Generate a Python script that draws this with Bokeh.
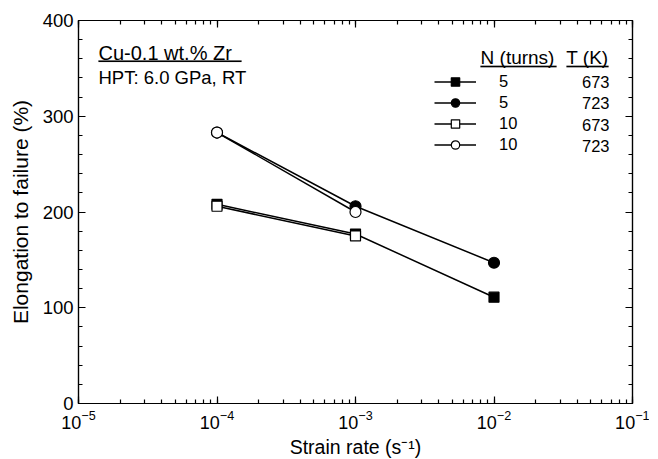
from bokeh.plotting import figure
from bokeh.models import (LogAxis, LinearAxis, Label, Legend, LegendItem, BoxAnnotation,
                          Range1d, FixedTicker, LogTicker, CustomJSTickFormatter)
from bokeh.embed import file_html
from bokeh.resources import INLINE

# ---- data ----
strain_rate = [1e-4, 1e-3, 1e-2]
n5_673 = [208, 177, 111]
n5_723 = [283, 206, 147]
strain_rate_10 = [1e-4, 1e-3]
n10_673 = [206, 175]
n10_723 = [283, 200]
n_turns = ["5", "5", "10", "10"]
temps = ["673", "723", "673", "723"]
x_title = "Strain rate (s\u207b\u00b9)"
y_title = "Elongation to failure (%)"

FONT = "Liberation Sans"

p = figure(frame_width=554, frame_height=383, x_axis_type="log",
           x_range=Range1d(1e-5, 1e-1), y_range=Range1d(0, 400),
           output_backend="svg", toolbar_location=None,
           min_border_left=78, min_border_right=17, min_border_top=20, min_border_bottom=50)
p.grid.visible = False
p.outline_line_color = "black"
p.outline_line_width = 1.2
p.background_fill_color = "white"
p.border_fill_color = "white"

def style_axis(ax, labels=True):
    ax.axis_line_color = "black"
    ax.axis_line_width = 1.2
    ax.major_tick_in = 7
    ax.major_tick_out = 0
    ax.minor_tick_in = 4
    ax.minor_tick_out = 0
    ax.major_tick_line_width = 1.2
    ax.minor_tick_line_width = 1.2
    ax.major_label_text_font = FONT
    ax.major_label_text_color = "black"
    ax.axis_label_text_font = FONT
    ax.axis_label_text_font_style = "normal"
    ax.axis_label_text_color = "black"
    if not labels:
        ax.formatter = CustomJSTickFormatter(code="return ''")
        ax.major_label_standoff = 0

xax = p.xaxis[0]
yax = p.yaxis[0]
style_axis(xax)
style_axis(yax)
xax.ticker = LogTicker(num_minor_ticks=10)
yax.ticker = FixedTicker(ticks=[0, 100, 200, 300, 400],
                         minor_ticks=list(range(0, 401, 20)))
xax.major_label_text_font_size = "18px"
yax.major_label_text_font_size = "18.5px"
xax.major_label_standoff = 6
yax.major_label_standoff = 5
xax.axis_label = x_title
yax.axis_label = y_title
xax.axis_label_text_font_size = "19.5px"
yax.axis_label_text_font_size = "21px"
xax.axis_label_standoff = 4
yax.axis_label_standoff = 8

top = LogAxis(ticker=LogTicker(num_minor_ticks=10))
style_axis(top, labels=False)
p.add_layout(top, "above")
right = LinearAxis(ticker=FixedTicker(ticks=[0, 100, 200, 300, 400],
                                      minor_ticks=list(range(0, 401, 20))))
style_axis(right, labels=False)
p.add_layout(right, "right")

LW = 1.5
# filled series first, open series on top
l1 = p.line(strain_rate, n5_673, line_color="black", line_width=LW)
m1 = p.scatter(strain_rate, n5_673, marker="square", size=10, fill_color="black",
               line_color="black", line_width=1.2)
l2 = p.line(strain_rate, n5_723, line_color="black", line_width=LW)
m2 = p.scatter(strain_rate, n5_723, marker="circle", size=11, fill_color="black",
               line_color="black", line_width=1.2)
l3 = p.line(strain_rate_10, n10_673, line_color="black", line_width=LW)
m3 = p.scatter(strain_rate_10, n10_673, marker="square", size=10, fill_color="white",
               line_color="black", line_width=1.2)
l4 = p.line(strain_rate_10, n10_723, line_color="black", line_width=LW)
m4 = p.scatter(strain_rate_10, n10_723, marker="circle", size=11, fill_color="white",
               line_color="black", line_width=1.2)

items = [LegendItem(label=n_turns[i], renderers=r) for i, r in
         enumerate([[l1, m1], [l2, m2], [l3, m3], [l4, m4]])]
legend = Legend(items=items, location=(356, 248), orientation="vertical",
                glyph_width=42, glyph_height=21, label_height=21, spacing=0,
                padding=0, margin=0, label_standoff=23,
                border_line_color=None, background_fill_alpha=0,
                label_text_font=FONT, label_text_font_size="16.5px",
                label_text_color="black")
p.add_layout(legend, "center")

# T column
row_y = [321.3, 300.7, 279, 258]
for t, yy in zip(temps, row_y):
    p.add_layout(Label(x=531, y=yy, x_units="screen", y_units="screen", text=t,
                       text_align="right", text_baseline="middle",
                       text_font=FONT, text_font_size="16.5px", text_color="black"))

# headers
p.add_layout(Label(x=439, y=346, x_units="screen", y_units="screen", text="N (turns)",
                   text_align="center", text_baseline="middle",
                   text_font=FONT, text_font_size="19px", text_color="black"))
p.add_layout(Label(x=530, y=346, x_units="screen", y_units="screen", text="T (K)",
                   text_align="right", text_baseline="middle",
                   text_font=FONT, text_font_size="19px", text_color="black"))

underlines = [(402, 478, 336.3), (488, 530, 336.3), (20, 163, 341.6)]
for l, r, b in underlines:
    p.add_layout(BoxAnnotation(left=l, right=r, bottom=b, top=b + 1.4,
                               left_units="screen", right_units="screen",
                               bottom_units="screen", top_units="screen",
                               fill_color="black", fill_alpha=1,
                               line_color="black", line_width=0.5))

# annotation
p.add_layout(Label(x=20, y=350.5, x_units="screen", y_units="screen", text="Cu-0.1 wt.% Zr",
                   text_align="left", text_baseline="middle",
                   text_font=FONT, text_font_size="20px", text_color="black"))
p.add_layout(Label(x=20, y=326, x_units="screen", y_units="screen", text="HPT: 6.0 GPa, RT",
                   text_align="left", text_baseline="middle",
                   text_font=FONT, text_font_size="18.5px", text_color="black"))

open("out.html", "w").write(file_html(p, INLINE))
